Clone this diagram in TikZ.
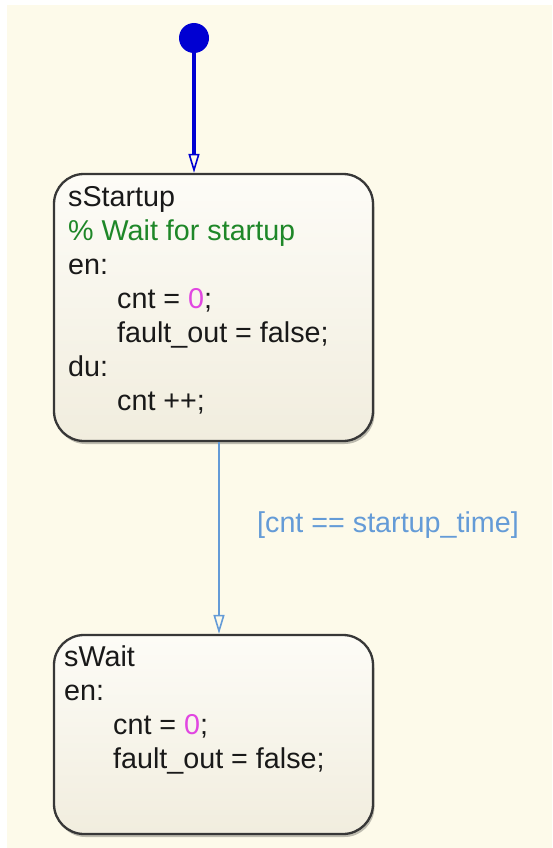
\documentclass[tikz,border=0pt]{standalone}
\usepackage{fontspec}
\setmainfont{Liberation Sans}
\usetikzlibrary{arrows.meta,shadows}
\definecolor{bgcream}{RGB}{253,250,234}
\definecolor{boxtop}{RGB}{253,252,247}
\definecolor{boxbot}{RGB}{241,237,222}
\definecolor{boxedge}{RGB}{55,55,55}
\definecolor{initblue}{RGB}{0,0,210}
\definecolor{transblue}{RGB}{100,155,215}
\definecolor{commentgreen}{RGB}{30,135,40}
\definecolor{nummag}{RGB}{225,70,225}
\definecolor{codetext}{RGB}{25,25,25}
\tikzset{
  statebox/.style={draw=boxedge, line width=2.3pt, rounded corners=30pt,
    top color=boxtop, bottom color=boxbot, inner sep=0pt,
    drop shadow={shadow xshift=1.5pt, shadow yshift=-3pt, opacity=0.25, fill=black}},
  codeline/.style={anchor=base west, inner sep=0pt, text=codetext,
    font=\fontsize{28.7}{34}\selectfont},
  guardlabel/.style={anchor=base west, inner sep=0pt, text=transblue,
    font=\fontsize{28.7}{34}\selectfont},
  initdot/.style={circle, fill=initblue, minimum size=30pt, inner sep=0pt},
  initarrow/.style={draw=initblue, line width=4pt,
    -{Triangle[open, length=19pt, width=11pt, line width=1.6pt]}},
  transarrow/.style={draw=transblue, line width=1.6pt,
    -{Triangle[open, length=19pt, width=11pt, line width=1.6pt]}}
}
\begin{document}
\begin{tikzpicture}[x=1pt,y=-1pt]
\useasboundingbox (0,0) rectangle (552,848);
\fill[bgcream] (7,5) rectangle (552,848);

% states
\node[statebox, minimum width=319pt, minimum height=267pt] (s1) at (213.5,307.5) {};
\node[statebox, minimum width=319pt, minimum height=199pt] (s2) at (213.5,734.5) {};

% sStartup text
\node[codeline] (s1name) at (68,206) {sStartup};
\node[codeline, text=commentgreen] (s1cmt) at (68,240) {\% Wait for startup};
\node[codeline] (s1en) at (68,274) {en:};
\node[codeline] (s1a) at (117,308) {cnt = \textcolor{nummag}{0};};
\node[codeline] (s1b) at (117,342) {fault\_out = false;};
\node[codeline] (s1du) at (68,376) {du:};
\node[codeline] (s1c) at (117,410) {cnt ++;};

% sWait text
\node[codeline] (s2name) at (64,666) {sWait};
\node[codeline] (s2en) at (64,700) {en:};
\node[codeline] (s2a) at (113,734) {cnt = \textcolor{nummag}{0};};
\node[codeline] (s2b) at (113,768) {fault\_out = false;};

% default transition
\node[initdot] (init) at (194,38) {};
\draw[initarrow] (init.center) -- (init |- s1.north);

% transition
\draw[transarrow] ([xshift=5.5pt]s1.south) -- ([xshift=5.5pt]s2.north);
\node[guardlabel] (guard) at (257,532) {[cnt == startup\_time]};
\end{tikzpicture}
\end{document}
